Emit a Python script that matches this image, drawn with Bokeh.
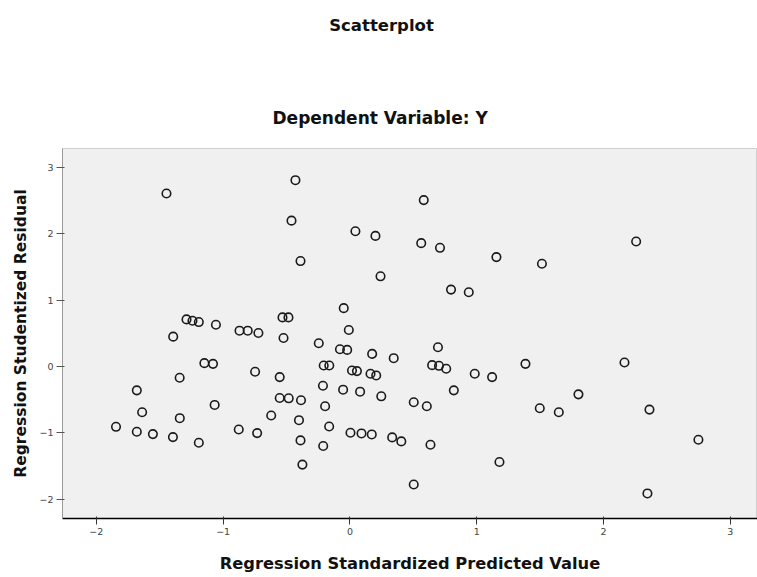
from bokeh.plotting import figure
from bokeh.models import Range1d, Div
from bokeh.layouts import column
from bokeh.embed import file_html
from bokeh.resources import INLINE

# Regression Standardized Predicted Value
pred = [-1.447, -0.430, -0.461, 0.582, 0.043, 0.201, 0.562, 0.710, 1.155, 1.514, 2.257, -0.390, 0.241, 0.797, 0.937, -0.049,
        -1.289, -1.242, -1.192, -1.057, -0.871, -0.806, -0.722, -0.532, -0.485, -1.394, -0.524, -0.009, -0.246, -0.079,
        -0.022, 0.175, 0.345, 0.694, -1.148, -1.080, -0.748, -1.343, -0.554, -0.207, -0.163, 0.016, 0.055, 0.162, 0.207,
        0.648, 0.702, 0.759, 0.984, 1.121, 1.384, 2.165,
        -1.681, -0.554, -0.483, -0.386, -1.639, -1.067, -1.342, -0.621, -0.402, -1.845, -1.681, -1.554, -1.396, -1.192,
        -0.877, -0.732, -0.390, -0.375, -0.213, -0.054, 0.080, 0.247, 0.503, 0.606, 0.819, -0.196, -0.164, 0.004, 0.091,
        0.172, 0.333, 0.405, 0.635, -0.211, 1.179, 0.503, 1.497, 1.647, 1.802, 2.362, 2.748, 2.346]

# Regression Studentized Residual
resid = [2.61, 2.81, 2.20, 2.51, 2.04, 1.97, 1.86, 1.79, 1.65, 1.55, 1.885, 1.59, 1.36, 1.16, 1.12, 0.88,
         0.71, 0.69, 0.67, 0.63, 0.54, 0.54, 0.505, 0.74, 0.74, 0.45, 0.43, 0.55, 0.35, 0.26,
         0.25, 0.19, 0.125, 0.29, 0.05, 0.04, -0.08, -0.17, -0.16, 0.015, 0.015, -0.06, -0.07, -0.11, -0.135,
         0.02, 0.01, -0.035, -0.11, -0.16, 0.04, 0.06,
         -0.36, -0.475, -0.48, -0.51, -0.69, -0.58, -0.78, -0.74, -0.81, -0.91, -0.985, -1.02, -1.065, -1.15,
         -0.95, -1.005, -1.115, -1.48, -0.29, -0.35, -0.38, -0.45, -0.54, -0.60, -0.36, -0.60, -0.905, -1.00, -1.01,
         -1.025, -1.07, -1.13, -1.18, -1.20, -1.44, -1.78, -0.63, -0.69, -0.42, -0.65, -1.105, -1.915]

x_ticks = [-2, -1, 0, 1, 2, 3]
y_ticks = [-2, -1, 0, 1, 2, 3]

main_title = "Scatterplot"
sub_title = "Dependent Variable: Y"
x_label = "Regression Standardized Predicted Value"
y_label = "Regression Studentized Residual"

FONT = "DejaVu Sans"

header = Div(text=main_title, width=757, height=52, margin=0,
             styles={"text-align": "center", "font-family": FONT, "font-weight": "bold",
                     "font-size": "16.5px", "line-height": "52px", "color": "#111111",
                     "padding-left": "6px", "box-sizing": "border-box"})

p = figure(width=757, height=525, output_backend="svg", toolbar_location=None,
           x_range=Range1d(-2.267, 3.214), y_range=Range1d(-2.293, 3.288),
           min_border_left=62, min_border_right=0, min_border_top=96, min_border_bottom=59,
           title=sub_title, margin=0)

p.title.align = "left"
p.title.offset = 210
p.title.standoff = 42
p.title.vertical_align = "bottom"
p.title.text_font = FONT
p.title.text_font_style = "bold"
p.title.text_font_size = "17px"
p.title.text_color = "#111111"

p.background_fill_color = "#f0f0f0"
p.border_fill_color = "white"
p.outline_line_color = "#cfcfcf"
p.xgrid.visible = False
p.ygrid.visible = False

p.scatter(pred, resid, marker="circle", size=8.5, fill_color=None,
          line_color="#1a1a1a", line_width=1.6)

for ax in (p.xaxis, p.yaxis):
    ax.major_label_text_font = FONT
    ax.major_label_text_font_size = "9.5px"
    ax.major_label_text_color = "#444444"
    ax.axis_label_text_font = FONT
    ax.axis_label_text_font_style = "bold"
    ax.axis_label_text_color = "#111111"
    ax.minor_tick_line_color = None
    ax.major_tick_out = 6
    ax.major_tick_in = 2

p.xaxis.axis_label_text_font_size = "16.3px"
p.yaxis.axis_label_text_font_size = "15.5px"
p.xaxis.ticker = x_ticks
p.yaxis.ticker = y_ticks
p.xaxis.axis_label = x_label
p.yaxis.axis_label = y_label
p.xaxis.axis_line_color = "black"
p.xaxis.axis_line_width = 1.5
p.xaxis.major_tick_line_color = "#333333"
p.yaxis.axis_line_color = "#9a9a9a"
p.yaxis.major_tick_line_color = "#555555"
p.xaxis.major_label_standoff = 3
p.yaxis.major_label_standoff = 3
p.xaxis.axis_label_standoff = 16
p.yaxis.axis_label_standoff = 6

layout = column(header, p, spacing=0)

open("out.html", "w").write(file_html(layout, INLINE))
